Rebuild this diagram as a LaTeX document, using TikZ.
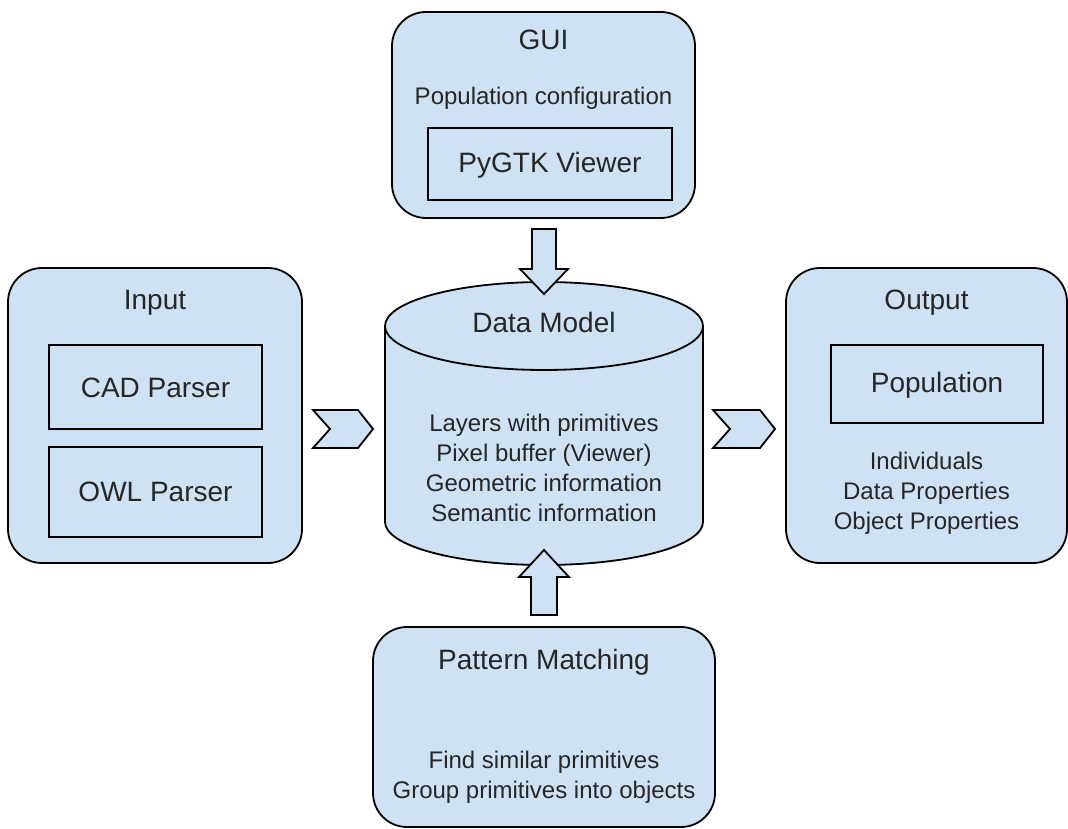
\documentclass[tikz,border=0pt]{standalone}
\usepackage{fontspec}
\setmainfont{Liberation Sans}
\definecolor{boxfill}{HTML}{CFE2F3}
\definecolor{ink}{HTML}{000000}
\begin{document}
\begin{tikzpicture}[x=1pt,y=-1pt,
  outer/.style={draw=ink,fill=boxfill,line width=1.8pt,rounded corners=34pt},
  inner/.style={draw=ink,line width=1.8pt},
  ttl/.style={font=\fontsize{28}{32}\selectfont,text=black!85,inner sep=0pt},
  body/.style={font=\fontsize{24}{30}\selectfont,text=black!85,inner sep=0pt,align=center},
  blockarrow/.style={draw=ink,fill=boxfill,line width=1.8pt,line join=miter}]
\useasboundingbox (0,0) rectangle (1068,829);

% GUI
\draw[outer] (392,12) rectangle (695,218);
\coordinate (gui) at (543.5,218);
\node[ttl] (guit) at (543.5,40) {GUI};
\node[body] (popconf) at (543.5,98) {Population configuration};
\draw[inner] (428,128) rectangle (672,200);
\node[ttl] (pygtk) at (550,165) {PyGTK Viewer};

% Input
\draw[outer] (8,268) rectangle (302,563);
\node[ttl] (inputt) at (155,303) {Input};
\draw[inner] (49,345) rectangle (262,429);
\node[ttl] (cad) at (155.5,388) {CAD Parser};
\draw[inner] (49,447) rectangle (262,537);
\node[ttl] (owl) at (155.5,492) {OWL Parser};

% Output
\draw[outer] (786,268) rectangle (1067,563);
\node[ttl] (outputt) at (926.5,303) {Output};
\draw[inner] (831,345) rectangle (1043,423);
\node[ttl] (pop) at (937,385) {Population};
\node[body] (outtext) at (926.5,493) {Individuals\\Data Properties\\Object Properties};

% Pattern Matching
\draw[outer] (373,627) rectangle (715,827);
\node[ttl] (pmt) at (544,662) {Pattern Matching};
\node[body] (pmtext) at (544,777) {Find similar primitives\\Group primitives into objects};

% Data model cylinder
\fill[boxfill] (385,326) rectangle (703,522);
\fill[boxfill] (544,522) ellipse [x radius=159pt, y radius=43pt];
\draw[ink,line width=1.8pt] (385,326) -- (385,522) arc[start angle=180,end angle=360,x radius=159pt,y radius=43pt] -- (703,326);
\draw[ink,fill=boxfill,line width=1.8pt] (544,326) ellipse [x radius=159pt, y radius=44pt];
\node[ttl] (dmt) at (544,322) {Data Model};
\node[body] (dmtext) at (544,468) {Layers with primitives\\Pixel buffer (Viewer)\\Geometric information\\Semantic information};

% block arrows
\draw[blockarrow] (532,229) -- (556,229) -- (556,269) -- (568,269) -- (544,294) -- (520,269) -- (532,269) -- cycle;
\draw[blockarrow] (531,615) -- (557,615) -- (557,577) -- (569,577) -- (544,550) -- (519,577) -- (531,577) -- cycle;
\draw[blockarrow] (313,410) -- (358,410) -- (373,429) -- (358,448) -- (313,448) -- (330,429) -- cycle;
\draw[blockarrow] (713,410) -- (760,410) -- (775,429) -- (760,448) -- (713,448) -- (730,429) -- cycle;
\end{tikzpicture}
\end{document}
